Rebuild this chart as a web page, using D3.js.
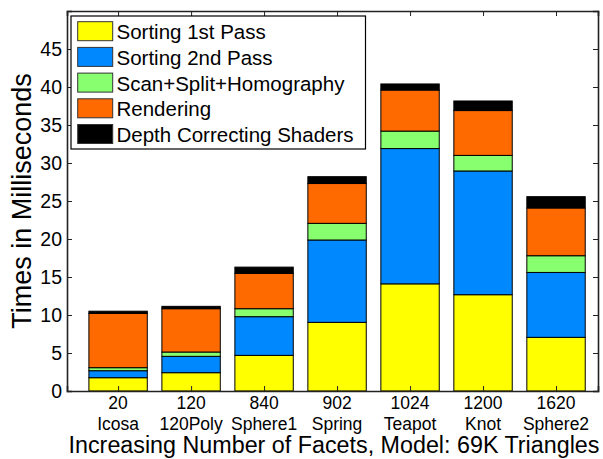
<!DOCTYPE html>
<html>
<head>
<meta charset="utf-8">
<script src="https://cdn.jsdelivr.net/npm/d3@7"></script>
<style>
  html, body { margin: 0; padding: 0; background: #fff; }
  svg { display: block; font-family: "Liberation Sans", Arial, Helvetica, sans-serif; }
</style>
</head>
<body>
<svg id="chart" width="603" height="459"></svg>
<script>
// Model names and facet counts shown under each stacked bar
const facetCounts = ["20", "120", "840", "902", "1024", "1200", "1620"];
const modelNames = ["Icosa", "120Poly", "Sphere1", "Spring", "Teapot", "Knot", "Sphere2"];

// Per-stage timings (ms) for each model
const sortingPass1 = [1.75, 2.41, 4.69, 9.03, 14.1, 12.67, 7.06];
const sortingPass2 = [0.92, 2.15, 5.09, 10.84, 17.8, 16.28, 8.54];
const scanSplitHomography = [0.4, 0.57, 1.05, 2.19, 2.3, 2.05, 2.2];
const rendering = [7.13, 5.7, 4.65, 5.24, 5.4, 5.9, 6.28];
const depthShaders = [0.3, 0.31, 0.82, 0.9, 0.8, 1.26, 1.49];

const seriesNames = ["Sorting 1st Pass", "Sorting 2nd Pass", "Scan+Split+Homography", "Rendering", "Depth Correcting Shaders"];
const seriesColors = ["#ffff00", "#0088ff", "#88ff6e", "#ff6a00", "#000000"];
const yTicks = [0, 5, 10, 15, 20, 25, 30, 35, 40, 45];

const seriesValues = [sortingPass1, sortingPass2, scanSplitHomography, rendering, depthShaders];

const rows = modelNames.map((m, i) => {
  const r = { idx: i + 1 };
  seriesNames.forEach((s, k) => { r[s] = seriesValues[k][i]; });
  return r;
});
const stacked = d3.stack().keys(seriesNames)(rows);

const svg = d3.select("#chart");
const plotL = 67, plotR = 598, plotT = 11, plotB = 391;

const x = d3.scaleLinear().domain([0.3, 7.575]).range([plotL, plotR]);
const y = d3.scaleLinear().domain([0, 50]).range([plotB, plotT]);
const barW = x(1.8) - x(1);

// Stacked bars
svg.append("g").selectAll("g")
  .data(stacked)
  .join("g")
  .attr("fill", (d, k) => seriesColors[k])
  .selectAll("rect")
  .data(d => d)
  .join("rect")
  .attr("x", d => x(d.data.idx) - barW / 2)
  .attr("width", barW)
  .attr("y", d => y(d[1]))
  .attr("height", d => y(d[0]) - y(d[1]))
  .attr("stroke", "#000")
  .attr("stroke-width", 1);

// Axes: ticks inward on all four sides
const idxs = d3.range(1, 8);
const axisColor = "#222";

const gLeft = svg.append("g").attr("transform", `translate(${plotL},0)`)
  .call(d3.axisLeft(y).tickValues(yTicks).tickSize(-5).tickPadding(5).tickFormat(d3.format("d")));
const gRight = svg.append("g").attr("transform", `translate(${plotR},0)`)
  .call(d3.axisRight(y).tickValues(yTicks).tickSize(-5).tickFormat(""));
const gBottom = svg.append("g").attr("transform", `translate(0,${plotB})`)
  .call(d3.axisBottom(x).tickValues(idxs).tickSize(-5).tickFormat(""));
const gTop = svg.append("g").attr("transform", `translate(0,${plotT})`)
  .call(d3.axisTop(x).tickValues(idxs).tickSize(-5).tickFormat(""));

[gLeft, gRight, gBottom, gTop].forEach(g => {
  g.select(".domain").attr("stroke", axisColor).attr("stroke-width", 1.6);
  g.selectAll(".tick line").attr("stroke", axisColor).attr("stroke-width", 1);
});
gLeft.selectAll(".tick text").attr("font-size", 19.5).attr("fill", "#000")
  .attr("font-family", "Liberation Sans, Arial, sans-serif");

// Two-line category labels
const catLabels = svg.append("g").attr("font-size", 17.5).attr("text-anchor", "middle").attr("fill", "#000");
catLabels.selectAll("text.cnt").data(facetCounts).join("text")
  .attr("class", "cnt")
  .attr("x", (d, i) => x(i + 1))
  .attr("y", 409)
  .text(d => d);
catLabels.selectAll("text.name").data(modelNames).join("text")
  .attr("class", "name")
  .attr("x", (d, i) => x(i + 1))
  .attr("y", 429.5)
  .text(d => d);

// Axis titles
svg.append("text")
  .attr("x", 334)
  .attr("y", 453)
  .attr("text-anchor", "middle")
  .attr("font-size", 23.3)
  .text("Increasing Number of Facets, Model: 69K Triangles");

svg.append("text")
  .attr("transform", `translate(31,${(plotT + plotB) / 2}) rotate(-90)`)
  .attr("text-anchor", "middle")
  .attr("font-size", 27)
  .text("Times in Milliseconds");

// Legend
const legend = svg.append("g");
legend.append("rect")
  .attr("x", 71).attr("y", 16).attr("width", 294.5).attr("height", 133)
  .attr("fill", "#fff").attr("stroke", "#000").attr("stroke-width", 1.2);
const items = legend.selectAll("g.item").data(seriesNames).join("g")
  .attr("class", "item")
  .attr("transform", (d, i) => `translate(0,${i * 25.7})`);
items.append("rect")
  .attr("x", 77.7).attr("y", 21.7).attr("width", 35).attr("height", 19)
  .attr("fill", (d, i) => seriesColors[i])
  .attr("stroke", "#333").attr("stroke-width", 1);
items.append("text")
  .attr("x", 116.5).attr("y", 39.3)
  .attr("font-size", 20.5)
  .text(d => d);
</script>
</body>
</html>
